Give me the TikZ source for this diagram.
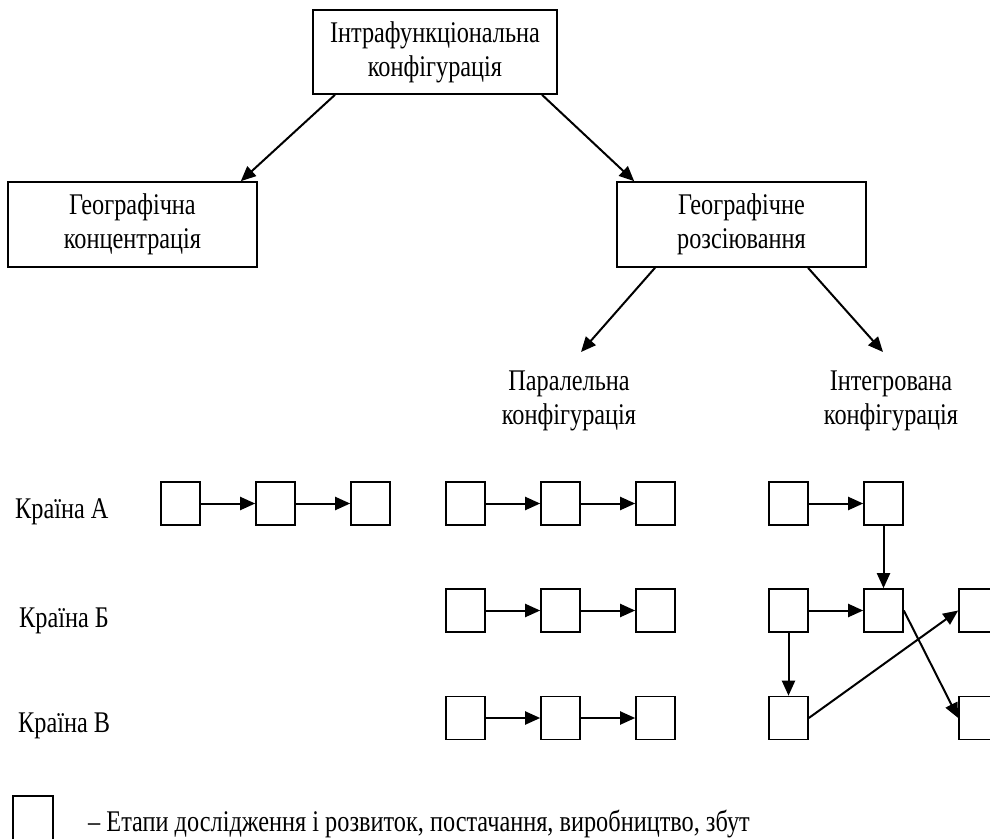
\documentclass[tikz,border=0pt]{standalone}
\usepackage{fontspec}
\setmainfont{Liberation Serif}[FakeStretch=0.81]
\usetikzlibrary{arrows.meta}

\tikzset{
  txt/.style={font=\fontsize{30}{34}\selectfont, inner sep=0pt, align=center},
  bigbox/.style={txt, draw, line width=1.6pt},
  stage/.style={draw, line width=1.6pt, minimum width=39pt, minimum height=43pt, inner sep=0pt},
  link/.style={line width=2pt, -{Triangle[length=15pt,width=13pt]}},
}

\begin{document}
\begin{tikzpicture}[x=1pt, y=-1pt]
\useasboundingbox (0,0) rectangle (990,838);

% configuration tree
\node[bigbox, minimum width=244pt, minimum height=84pt] (top) at (435,52)
  {Інтрафункціональна\\конфігурація};
\node[bigbox, minimum width=249pt, minimum height=85pt] (conc) at (132.5,224.5)
  {Географічна\\концентрація};
\node[bigbox, minimum width=249pt, minimum height=85pt] (disp) at (741.5,224.5)
  {Географічне\\розсіювання};
\node[txt] (par) at (569,401) {Паралельна\\конфігурація};
\node[txt] (integ) at (891,401) {Інтегрована\\конфігурація};
\coordinate (parTip) at (581,352);
\coordinate (intTip) at (883,352);

\draw[link] ([xshift=-100pt]top.south) -- ([xshift=-17pt]conc.north east);
\draw[link] ([xshift=107pt]top.south) -- ([xshift=18pt]disp.north west);
\draw[link] ([xshift=-86.5pt]disp.south) -- (parTip);
\draw[link] ([xshift=66.5pt]disp.south) -- (intTip);

% country labels
\node[txt, anchor=base west] (cA) at (15,518) {Країна А};
\node[txt, anchor=base west] (cB) at (19,627) {Країна Б};
\node[txt, anchor=base west] (cC) at (18,732) {Країна В};

% concentration chain
\node[stage] (a1) at (180.5,503.5) {};
\node[stage] (a2) at (275.5,503.5) {};
\node[stage] (a3) at (370.5,503.5) {};
\draw[link] (a1) -- (a2);
\draw[link] (a2) -- (a3);

% parallel chains
\foreach \r/\y in {A/503.5, B/610.5, C/718} {
  \node[stage] (p\r1) at (465.5,\y) {};
  \node[stage] (p\r2) at (560.5,\y) {};
  \node[stage] (p\r3) at (655.5,\y) {};
  \draw[link] (p\r1) -- (p\r2);
  \draw[link] (p\r2) -- (p\r3);
}

% integrated network
\node[stage] (iA1) at (788.5,503.5) {};
\node[stage] (iA2) at (883.5,503.5) {};
\node[stage] (iB1) at (788.5,610.5) {};
\node[stage] (iB2) at (883.5,610.5) {};
\node[stage] (iB3) at (978.5,610.5) {};
\node[stage] (iC1) at (788.5,718) {};
\node[stage] (iC3) at (978.5,718) {};
\draw[link] (iA1) -- (iA2);
\draw[link] (iA2) -- (iB2);
\draw[link] (iB1) -- (iB2);
\draw[link] (iB1) -- (iC1);
\draw[link] (iC1.east) -- (iB3.west);
\draw[link] (iB2.east) -- (iC3.west);

% legend
\node[stage, minimum width=40pt, minimum height=45pt] (key) at (33,818.5) {};
\node[txt, anchor=base west] (keytext) at (88,831)
  {– Етапи дослідження і розвиток, постачання, виробництво, збут};
\end{tikzpicture}
\end{document}
